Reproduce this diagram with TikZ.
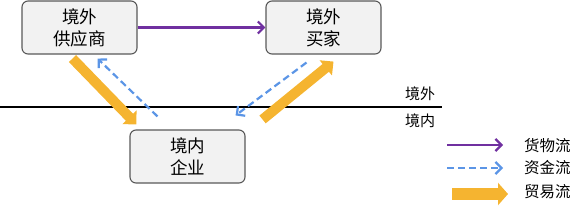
\documentclass[tikz,border=0pt]{standalone}
\usepackage{fontspec}
\newfontfamily\cjk{Noto Sans CJK SC}
\usepackage{tikz}
\usetikzlibrary{arrows.meta,positioning,calc}
\definecolor{flowGoods}{HTML}{7030A0}
\definecolor{flowCash}{HTML}{5B95E6}
\definecolor{flowTrade}{HTML}{F5B430}
\definecolor{partyFill}{HTML}{F2F2F2}
\definecolor{partyEdge}{HTML}{595959}
\tikzset{
  party/.style={draw=partyEdge,line width=1.1pt,fill=partyFill,rounded corners=6pt,
                minimum width=115pt,minimum height=53pt,align=center,inner sep=2pt,
                font=\cjk\fontsize{17.5}{22}\selectfont},
  goodsflow/.style={-{Straight Barb[length=6pt,width=12pt,line width=2.2pt]},draw=flowGoods,line width=2.2pt},
  cashflow/.style={-{Straight Barb[length=6pt,width=12pt,line width=2.2pt]},draw=flowCash,line width=2.2pt,dash pattern=on 7pt off 4pt},
  tradeflow/.style={-{Triangle[length=10pt,width=19pt]},draw=flowTrade,line width=10pt},
  zonelbl/.style={font=\cjk\fontsize{15}{17}\selectfont,inner sep=1pt},
  keylbl/.style={font=\cjk\fontsize{15.5}{17}\selectfont,inner sep=1pt,anchor=west},
}
\begin{document}
\begin{tikzpicture}[x=1pt,y=-1pt]
  \useasboundingbox (0,0) rectangle (588,210);
  \node[party] (supplier) at (79.5,27.5) {境外\\供应商};
  \node[party] (buyer) at (323.5,27.5) {境外\\买家};
  \node[party] (firm) at (187.5,156.5) {境内\\企业};

  % border line between the two zones
  \coordinate (lineL) at (0,107);
  \coordinate (lineR) at (442,107);
  \draw[line width=1.8pt] (lineL) -- (lineR);
  \node[zonelbl] (outside) at (420,94) {境外};
  \node[zonelbl] (inside) at (420,121) {境内};

  \draw[goodsflow] (supplier.east) -- (buyer.west);
  \draw[tradeflow] ([shift={(-7,4)}]supplier.south) -- ([shift={(7,-5)}]firm.north west);
  \draw[cashflow] ([shift={(-30,-13)}]firm.north) -- ([shift={(18,4)}]supplier.south);
  \draw[cashflow] ([shift={(-17,8)}]buyer.south) -- ([shift={(-10,-14)}]firm.north east);
  \draw[tradeflow] ([shift={(17,-10)}]firm.north east) -- ([shift={(10,7)}]buyer.south);

  % legend
  \coordinate (kGa) at (447,145); \coordinate (kGb) at (503,145);
  \coordinate (kCa) at (447,168); \coordinate (kCb) at (503,168);
  \coordinate (kTa) at (452,194); \coordinate (kTb) at (508,194);
  \draw[goodsflow] (kGa) -- (kGb);
  \draw[cashflow] (kCa) -- (kCb);
  \draw[tradeflow,line width=12pt,-{Triangle[length=10pt,width=22pt]}] (kTa) -- (kTb);
  \node[keylbl] (kGoods) at (523,146) {货物流};
  \node[keylbl] (kCash) at (523,168) {资金流};
  \node[keylbl] (kTrade) at (523,192) {贸易流};
\end{tikzpicture}
\end{document}
